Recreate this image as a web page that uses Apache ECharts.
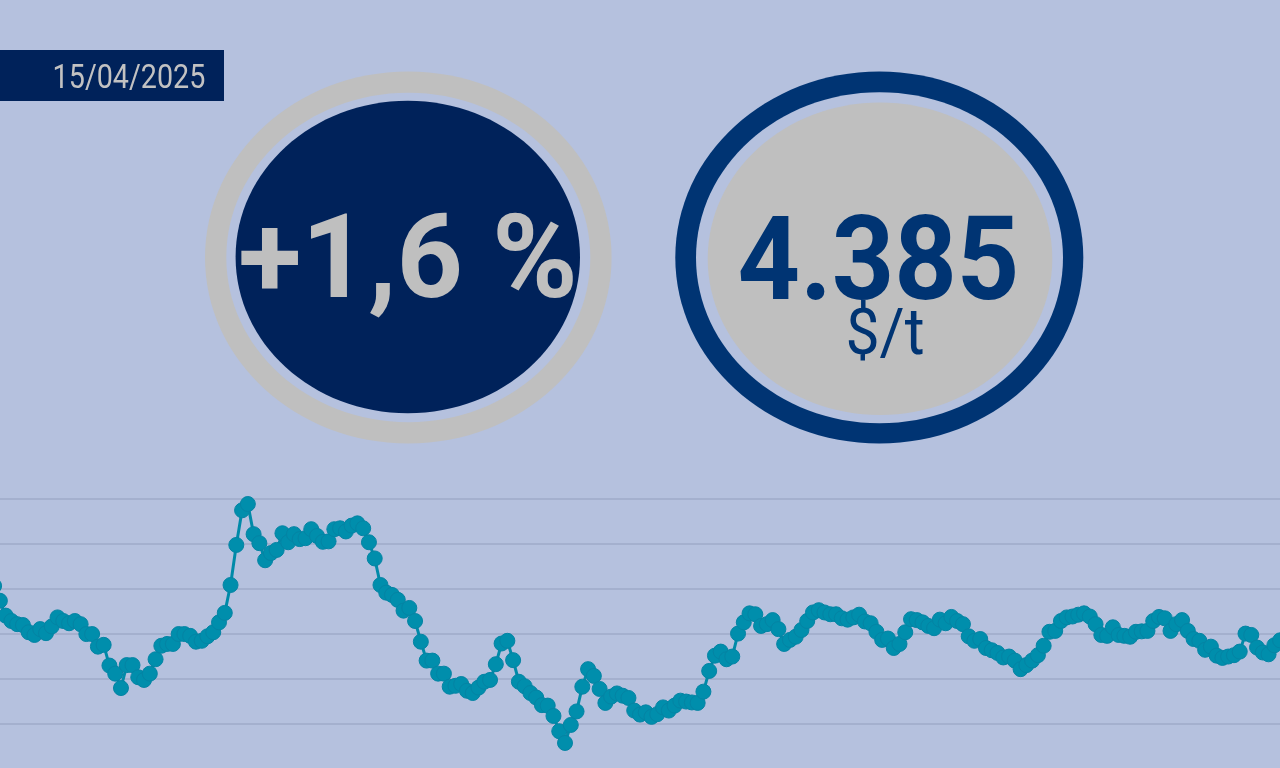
<!DOCTYPE html>
<html>
<head>
<meta charset="utf-8">
<style>
  html, body { margin: 0; padding: 0; background: #b5c1de; }
  #main { width: 1280px; height: 768px; }
</style>
<script src="https://cdn.jsdelivr.net/npm/echarts@6/dist/echarts.min.js"></script>
</head>
<body>
<div id="main"></div>
<script>
const DATE_LABEL = '15/04/2025';
const CHANGE_LABEL = '+1,6 %';
const PRICE_LABEL = '4.385';
const UNIT_LABEL = '$/t';

const prices1 = [
  4506, 4473, 4440, 4428, 4421, 4419, 4403, 4397, 4410, 4401, 4416, 4436, 4428, 4423, 4428, 4421,
  4399, 4399, 4371, 4375, 4329, 4311, 4279, 4330, 4330, 4303, 4297, 4311, 4343, 4373, 4377, 4377,
  4399, 4399, 4395, 4382, 4384, 4394, 4403, 4425, 4446, 4508, 4597, 4674, 4688, 4621, 4601, 4563,
  4579, 4586, 4623, 4603, 4621, 4610, 4612, 4632, 4617, 4604, 4605, 4632, 4634, 4627, 4640, 4645,
  4634, 4603, 4567, 4508, 4491, 4486, 4475, 4451, 4457, 4428, 4382, 4340
];
const prices2 = [
  4340, 4311, 4311, 4282, 4284, 4288, 4273, 4268, 4280, 4293, 4297, 4332, 4378, 4384, 4341, 4293,
  4283, 4268, 4258, 4241, 4240, 4217, 4183, 4157, 4197, 4227, 4282, 4321, 4306, 4277, 4246, 4260,
  4267, 4262, 4257, 4229, 4220, 4225, 4215, 4221, 4236, 4229, 4240, 4251, 4249, 4247, 4246, 4271,
  4317, 4351, 4360, 4343, 4349, 4400, 4425, 4445, 4443, 4417, 4421, 4430, 4410, 4377, 4386, 4393,
  4408, 4428, 4447, 4452, 4447, 4443, 4443, 4434, 4431
];
const prices3 = [
  4436, 4442, 4427, 4423, 4404, 4386, 4389, 4368, 4377, 4403, 4432, 4430, 4425, 4417, 4412, 4431,
  4423, 4437, 4428, 4421, 4394, 4384, 4388, 4368, 4363, 4357, 4347, 4349, 4340, 4321, 4330, 4340,
  4352, 4373, 4404, 4406, 4428, 4436, 4438, 4442, 4445, 4438, 4421, 4397, 4395, 4414, 4397, 4395,
  4393, 4404, 4405, 4406, 4428, 4437, 4434, 4406, 4421, 4430, 4406, 4388, 4384, 4364, 4371, 4351,
  4346, 4349, 4352, 4360, 4400, 4397, 4369, 4358, 4354, 4374, 4385
];
const prices = prices1.concat(prices2, prices3);
const days = prices.map((v, i) => String(i + 1));

const chart = echarts.init(document.getElementById('main'));

chart.setOption({
  animation: false,
  backgroundColor: '#b5c1de',
  grid: { left: -5.9, top: 498.6, width: 1286, height: 270, outerBoundsMode: 'none' },
  xAxis: {
    type: 'category',
    data: days,
    boundaryGap: false,
    show: false
  },
  yAxis: {
    type: 'value',
    min: 4100,
    max: 4700,
    interval: 100,
    axisLine: { show: false },
    axisTick: { show: false },
    axisLabel: { show: false },
    splitLine: { lineStyle: { color: '#a4b0ce', width: 2 } }
  },
  series: [{
    type: 'line',
    data: prices,
    clip: false,
    showAllSymbol: true,
    symbol: 'circle',
    symbolSize: 15,
    lineStyle: { color: '#008aa8', width: 3 },
    itemStyle: { color: '#008eac', borderColor: '#0484a4', borderWidth: 1 }
  }],
  graphic: [
    { type: 'rect', shape: { x: 0, y: 50, width: 224, height: 51 }, style: { fill: '#00225a' } },
    {
      type: 'text', x: 129, y: 80, scaleX: 0.87,
      style: { text: DATE_LABEL, font: '400 33px Roboto', fill: '#c2c2c2', align: 'center', verticalAlign: 'middle' }
    },
    { type: 'ellipse', shape: { cx: 408.3, cy: 257.5, rx: 203.3, ry: 186 }, style: { fill: '#bfbfbf' } },
    { type: 'ellipse', shape: { cx: 408.3, cy: 257.5, rx: 182, ry: 164.7 }, style: { fill: '#b5c1de' } },
    { type: 'ellipse', shape: { cx: 407.8, cy: 257, rx: 172.2, ry: 156.3 }, style: { fill: '#00225a' } },
    {
      type: 'text', x: 408, y: 268, scaleX: 1,
      style: { text: CHANGE_LABEL, font: '700 116px Roboto', fill: '#bfbfbf', align: 'center', verticalAlign: 'middle' }
    },
    { type: 'ellipse', shape: { cx: 879.3, cy: 257.5, rx: 204, ry: 186 }, style: { fill: '#003473' } },
    { type: 'ellipse', shape: { cx: 879.5, cy: 257.8, rx: 183.5, ry: 165.5 }, style: { fill: '#b5c1de' } },
    { type: 'ellipse', shape: { cx: 880, cy: 258.8, rx: 172.3, ry: 156.2 }, style: { fill: '#bfbfbf' } },
    {
      type: 'text', x: 878.5, y: 270, scaleX: 0.94,
      style: { text: PRICE_LABEL, font: '700 116px Roboto', fill: '#003473', align: 'center', verticalAlign: 'middle' }
    },
    {
      type: 'text', x: 885, y: 338, scaleX: 0.95,
      style: { text: UNIT_LABEL, font: '400 64px Roboto', fill: '#003473', align: 'center', verticalAlign: 'middle' }
    }
  ]
});
</script>
</body>
</html>
